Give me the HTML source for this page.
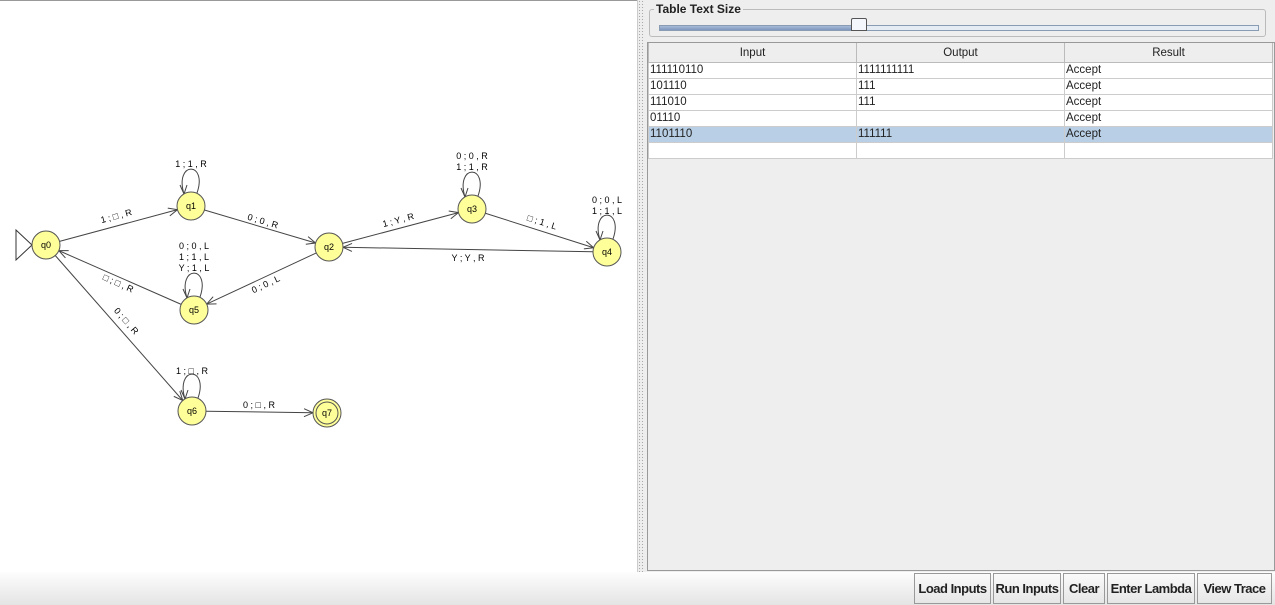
<!DOCTYPE html>
<html><head><meta charset="utf-8"><style>
body{margin:0;width:1275px;height:605px;overflow:hidden;background:#eeeeee;font-family:"Liberation Sans",sans-serif;position:relative}
#left{position:absolute;left:0;top:0;width:637px;height:572px;background:#fff;border-top:1px solid #999}
#div{position:absolute;left:637px;top:0;width:8px;height:572px;background:#eee;border-left:1px solid #ccc;background-image:radial-gradient(#aaa 0.6px,transparent 0.8px);background-size:3px 3px}
#right{position:absolute;left:645px;top:0;width:630px;height:572px;background:#eee}
fieldset{position:absolute;left:4px;top:2px;width:615px;height:33px;border:1px solid #bbb;border-radius:3px;margin:0;padding:0}
legend{font-size:12px;font-weight:bold;color:#222;padding:0 2px;margin-left:4px}
.track{position:absolute;left:14px;top:25px;width:598px;height:4px;border:1px solid #8a9cb4;background:#e6ecf4}
.fill{position:absolute;left:0;top:0;width:200px;height:4px;background:linear-gradient(#a8bcd8,#7e98bf)}
.thumb{position:absolute;left:206px;top:18px;width:14px;height:11px;background:#f4f7fb;border:1px solid #555;border-radius:2px 2px 0 0}
.tab{position:absolute;left:2px;top:42px;width:626px;height:527px;border:1px solid #999;background:#eee}
table{border-collapse:collapse;font-size:11.5px;color:#222;width:625px;table-layout:fixed}
th{font-weight:normal;height:19px;background:#eee;border:1px solid #bbb;border-top:none;text-align:center;padding:0}
td{height:15px;border:1px solid #ccc;padding:0 1px;background:#fff;white-space:nowrap;line-height:15px}
tr.sel td{background:#b8cfe5}
#bottom{position:absolute;left:0;top:572px;width:1275px;height:33px;background:linear-gradient(#fdfdfd,#e4e4e4)}
.btn{position:absolute;top:1px;height:29px;border:1px solid #999;background:linear-gradient(#fafafa,#e6e6e6);font-size:13px;font-weight:bold;color:#222;line-height:29px;text-align:center;letter-spacing:-0.5px}
</style></head><body>
<div id="left">
<svg width="637" height="572" xmlns="http://www.w3.org/2000/svg" font-family="Liberation Sans, sans-serif" font-size="9" fill="#000">
<g id="edges" stroke="#444" stroke-width="1" fill="none"></g>
<g stroke="#444" fill="none">
<path d="M184,193 C174,160 208,160 197,192"/><path d="M180,184 L184,193 L187,184"/>
<path d="M465,196 C455,163 489,163 478,195"/><path d="M461,187 L465,196 L468,187"/>
<path d="M600,239 C590,206 624,206 613,238"/><path d="M596,230 L600,239 L603,230"/>
<path d="M187,297 C177,264 211,264 200,296"/><path d="M183,288 L187,297 L190,288"/>
<path d="M185,398 C175,365 209,365 198,397"/><path d="M181,389 L185,398 L188,389"/>
<path d="M16,229 L32,244 L16,259 Z" fill="#fff" stroke="#333"/>
</g>
<g stroke="#555" fill="#ffff99">
<circle cx="46" cy="244" r="14"/><circle cx="191" cy="205" r="14"/><circle cx="329" cy="246" r="14"/>
<circle cx="472" cy="208" r="14"/><circle cx="607" cy="251" r="14"/><circle cx="194" cy="309" r="14"/>
<circle cx="192" cy="410" r="14"/><circle cx="327" cy="412" r="14"/><circle cx="327" cy="412" r="11"/>
</g>
<g text-anchor="middle" font-size="9">
<text x="46" y="247">q0</text><text x="191" y="208">q1</text><text x="329" y="249">q2</text>
<text x="472" y="211">q3</text><text x="607" y="254">q4</text><text x="194" y="312">q5</text>
<text x="192" y="413">q6</text><text x="327" y="415">q7</text>
<text x="191" y="166">1 ; 1 , R</text>
<text x="472" y="158">0 ; 0 , R</text><text x="472" y="169">1 ; 1 , R</text>
<text x="607" y="202">0 ; 0 , L</text><text x="607" y="213">1 ; 1 , L</text>
<text x="194" y="248">0 ; 0 , L</text><text x="194" y="259">1 ; 1 , L</text><text x="194" y="270">Y ; 1 , L</text>
<text x="192" y="373">1 ; □ , R</text>
<text x="259" y="407">0 ; □ , R</text>
<text x="468" y="260">Y ; Y , R</text>
<text transform="translate(117,218) rotate(-15)">1 ; □ , R</text>
<text transform="translate(262,223) rotate(16.5)">0 ; 0 , R</text>
<text transform="translate(399,222) rotate(-15)">1 ; Y , R</text>
<text transform="translate(541,224) rotate(17.7)">□ ; 1 , L</text>
<text transform="translate(267,286) rotate(-25)">0 ; 0 , L</text>
<text transform="translate(117,285) rotate(24)">□ ; □ , R</text>
<text transform="translate(124,322) rotate(48.7)">0 ; □ , R</text>
</g>
</svg>
</div>
<div id="div"></div>
<div id="right">
<fieldset><legend>Table Text Size</legend></fieldset>
<div class="track"><div class="fill"></div></div>
<div class="thumb"></div>
<div class="tab"><table>
<tr><th>Input</th><th>Output</th><th>Result</th></tr>
<tr><td>111110110</td><td>1111111111</td><td>Accept</td></tr>
<tr><td>101110</td><td>111</td><td>Accept</td></tr>
<tr><td>111010</td><td>111</td><td>Accept</td></tr>
<tr><td>01110</td><td></td><td>Accept</td></tr>
<tr class="sel"><td>1101110</td><td>111111</td><td>Accept</td></tr>
<tr><td></td><td></td><td></td></tr>
</table></div>
</div>
<div id="bottom">
<div class="btn" style="left:914px;width:75px">Load Inputs</div>
<div class="btn" style="left:993px;width:66px">Run Inputs</div>
<div class="btn" style="left:1063px;width:40px">Clear</div>
<div class="btn" style="left:1107px;width:86px">Enter Lambda</div>
<div class="btn" style="left:1197px;width:73px">View Trace</div>
</div>
<script>
var N={q0:[46,244],q1:[191,205],q2:[329,246],q3:[472,208],q4:[607,251],q5:[194,309],q6:[192,410],q7:[327,412]};
var E=[["q0","q1"],["q1","q2"],["q2","q3"],["q3","q4"],["q4","q2"],["q2","q5"],["q5","q0"],["q0","q6"],["q6","q7"]];
var g=document.getElementById("edges"),s="";
E.forEach(function(e){var a=N[e[0]],b=N[e[1]],dx=b[0]-a[0],dy=b[1]-a[1],L=Math.hypot(dx,dy),ux=dx/L,uy=dy/L;
var x1=a[0]+ux*14,y1=a[1]+uy*14,x2=b[0]-ux*14,y2=b[1]-uy*14;
s+='<line x1="'+x1+'" y1="'+y1+'" x2="'+x2+'" y2="'+y2+'"/>';
var px=-uy,py=ux,h=9,w=4;
s+='<path d="M'+(x2-ux*h+px*w)+','+(y2-uy*h+py*w)+' L'+x2+','+y2+' L'+(x2-ux*h-px*w)+','+(y2-uy*h-py*w)+'"/>';});
g.innerHTML=s;
</script>
</body></html>
